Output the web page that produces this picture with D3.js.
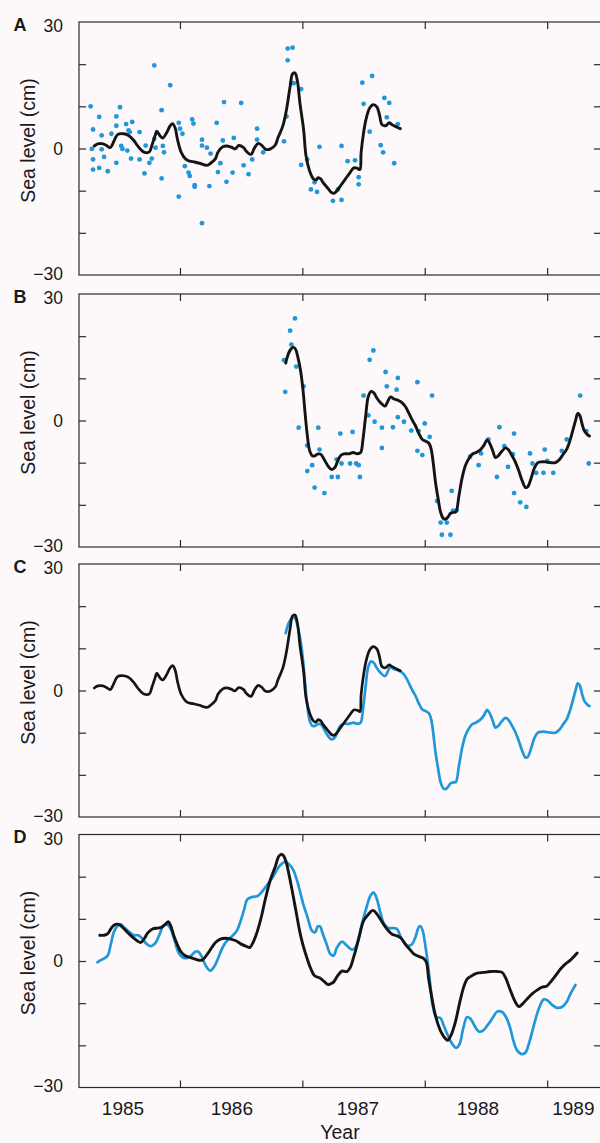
<!DOCTYPE html>
<html>
<head>
<meta charset="utf-8">
<script src="https://cdn.jsdelivr.net/npm/d3@7"></script>
<style>
  body { margin: 0; background: #fdf9fb; }
  text { font-family: "Liberation Sans", Arial, Helvetica, sans-serif; fill: #1a1a1a; }
</style>
</head>
<body>
<script>
// sea level (cm) against decimal year

// A: observed monthly values and their smoothed curve
const dotsA = [
  [1985.27,10.0],[1985.29,4.5],[1985.28,-0.1],[1985.29,-2.6],[1985.29,-5.0],[1985.34,7.5],[1985.36,3.1],
  [1985.36,-0.2],[1985.34,-4.6],[1985.38,-2.0],[1985.41,-5.4],[1985.44,3.5],[1985.48,5.4],[1985.48,7.6],
  [1985.51,9.8],[1985.48,-3.4],[1985.52,0.6],[1985.53,-0.1],[1985.57,-0.5],[1985.56,5.8],[1985.58,4.3],
  [1985.59,3.9],[1985.61,6.3],[1985.60,-2.4],[1985.67,3.9],[1985.67,-2.6],[1985.71,-5.9],[1985.72,0.7],
  [1985.75,-3.4],[1985.77,-2.4],[1985.79,19.7],[1985.79,2.3],[1985.80,0.2],[1985.85,-7.1],[1985.85,9.1],
  [1985.87,-0.9],[1985.86,0.6],[1985.92,15.0],[1985.99,6.1],[1985.99,-11.4],[1986.00,4.7],[1986.02,3.5],
  [1986.04,-4.2],[1986.07,-5.7],[1986.08,-6.5],[1986.10,6.9],[1986.11,5.9],[1986.12,-8.7],[1986.12,-9.1],
  [1986.18,2.1],[1986.18,0.7],[1986.18,-17.7],[1986.22,0.2],[1986.24,-8.9],[1986.25,-1.2],[1986.30,6.1],
  [1986.31,-5.6],[1986.33,-3.5],[1986.35,1.9],[1986.36,11.0],[1986.38,-7.9],[1986.44,2.5],[1986.43,-5.7],
  [1986.50,10.8],[1986.52,-4.0],[1986.56,-6.1],[1986.59,-2.6],[1986.63,4.7],[1986.63,2.1],[1986.68,-0.9],
  [1986.85,1.7],[1986.87,7.6],[1986.88,20.9],[1986.88,23.7],[1986.92,23.9],[1986.91,15.5],[1986.93,15.5],
  [1986.99,14.1],[1986.99,-3.9],[1987.04,-2.6],[1987.07,-9.7],[1987.10,-8.0],[1987.12,-10.3],[1987.14,0.4],
  [1987.25,-12.4],[1987.29,-9.7],[1987.32,0.6],[1987.32,-12.2],[1987.37,-3.0],[1987.43,-2.8],[1987.46,-6.8],
  [1987.46,-8.5],[1987.49,15.6],[1987.50,10.6],[1987.55,4.0],[1987.57,17.2],[1987.64,0.8],[1987.66,-0.9],
  [1987.67,12.0],[1987.69,7.4],[1987.71,10.8],[1987.75,-3.5],[1987.78,5.8]
];
const smoothA = [
  [1985.30,0.6],[1985.33,1.1],[1985.37,1.1],[1985.40,0.7],[1985.43,0.2],[1985.46,1.7],[1985.49,3.3],
  [1985.54,3.5],[1985.58,3.1],[1985.62,2.0],[1985.66,0.4],[1985.71,-0.9],[1985.75,-0.8],[1985.77,0.7],
  [1985.80,3.3],[1985.81,4.1],[1985.84,2.9],[1985.86,2.5],[1985.89,3.7],[1985.92,5.4],[1985.94,5.9],
  [1985.96,4.9],[1985.98,2.1],[1986.01,-0.9],[1986.05,-2.6],[1986.08,-3.0],[1986.12,-3.2],[1986.16,-3.5],
  [1986.22,-4.0],[1986.25,-3.5],[1986.29,-2.4],[1986.31,-0.9],[1986.35,0.4],[1986.38,0.6],[1986.42,0.3],
  [1986.45,-0.1],[1986.48,0.7],[1986.52,0.2],[1986.54,-0.6],[1986.58,-1.4],[1986.61,0.2],[1986.64,1.2],
  [1986.67,0.7],[1986.70,-0.2],[1986.74,-0.1],[1986.78,0.9],[1986.80,2.5],[1986.84,5.3],[1986.87,9.2],
  [1986.90,14.7],[1986.92,17.7],[1986.94,17.9],[1986.96,15.9],[1986.98,10.8],[1987.01,4.5],[1987.03,-1.8],
  [1987.06,-5.4],[1987.09,-7.2],[1987.11,-7.5],[1987.13,-6.9],[1987.15,-7.2],[1987.17,-8.1],[1987.21,-9.5],
  [1987.24,-10.5],[1987.26,-10.6],[1987.28,-10.1],[1987.31,-8.9],[1987.35,-7.3],[1987.39,-5.7],[1987.42,-4.6],
  [1987.45,-4.7],[1987.47,-5.0],[1987.48,-1.0],[1987.50,3.7],[1987.52,6.9],[1987.55,9.6],[1987.58,10.4],
  [1987.61,9.8],[1987.63,8.0],[1987.65,5.7],[1987.68,5.4],[1987.71,6.1],[1987.73,5.7],[1987.77,5.1],
  [1987.80,4.7]
];

// B: second record, observed values and smoothed curve
const dotsB = [
  [1986.85,14.3],[1986.86,6.8],[1986.90,21.3],[1986.91,18.0],[1986.94,24.2],[1986.95,12.8],[1986.97,-1.7],
  [1987.01,8.1],[1987.04,-5.9],[1987.04,-12.0],[1987.08,-10.6],[1987.10,-15.9],[1987.13,-1.7],[1987.14,-6.9],
  [1987.18,-17.2],[1987.24,-13.4],[1987.28,-9.2],[1987.29,-13.4],[1987.31,-3.1],[1987.32,-10.2],[1987.39,-10.2],
  [1987.41,-2.7],[1987.44,-10.2],[1987.46,-10.6],[1987.47,-13.4],[1987.50,5.9],[1987.54,1.2],[1987.55,14.4],
  [1987.58,16.6],[1987.59,-0.3],[1987.65,-1.7],[1987.65,-6.5],[1987.68,11.5],[1987.69,8.1],[1987.74,-1.6],
  [1987.77,7.3],[1987.78,10.1],[1987.78,0.8],[1987.83,-0.3],[1987.89,-2.4],[1987.94,9.1],[1987.94,-7.2],
  [1987.95,-2.5],[1987.98,-8.2],[1988.00,-0.7],[1988.04,-3.9],[1988.06,5.9],[1988.10,-19.1],[1988.13,-24.2],
  [1988.14,-27.1],[1988.18,-24.2],[1988.21,-27.1],[1988.22,-16.7],[1988.23,-21.4],[1988.26,-21.3],[1988.37,-8.6],
  [1988.44,-10.6],[1988.46,-7.8],[1988.52,-4.5],[1988.59,-13.4],[1988.61,-1.6],[1988.65,-6.1],[1988.68,-11.0],
  [1988.72,-8.0],[1988.73,-17.2],[1988.73,-3.1],[1988.78,-19.4],[1988.83,-20.5],[1988.86,-7.8],[1988.88,-10.2],
  [1988.91,-12.4],[1988.97,-12.4],[1988.98,-6.9],[1989.00,-9.6],[1989.05,-12.4],[1989.12,-7.2],[1989.16,-4.5],
  [1989.27,5.9],[1989.32,-2.5],[1989.34,-10.2]
];
const smoothB = [
  [1986.864,13.6],[1986.883,15.6],[1986.905,16.9],[1986.927,17.4],[1986.946,16.8],[1986.965,14.8],[1986.986,11.7],
  [1987.005,7.3],[1987.022,1.8],[1987.041,-3.7],[1987.060,-7.2],[1987.082,-8.4],[1987.101,-8.4],[1987.122,-8.0],
  [1987.150,-8.0],[1987.177,-9.2],[1987.210,-10.8],[1987.237,-11.6],[1987.264,-11.2],[1987.286,-9.8],[1987.313,-8.3],
  [1987.340,-7.9],[1987.381,-7.9],[1987.416,-7.6],[1987.449,-7.9],[1987.476,-7.6],[1987.495,-4.5],[1987.517,1.0],
  [1987.539,5.7],[1987.563,6.9],[1987.585,6.5],[1987.607,5.4],[1987.639,4.2],[1987.675,3.4],[1987.699,4.6],
  [1987.721,5.6],[1987.748,5.1],[1987.781,4.8],[1987.816,4.2],[1987.844,3.2],[1987.871,1.7],[1987.898,0.1],
  [1987.925,-1.3],[1987.952,-3.1],[1987.980,-4.5],[1988.007,-4.9],[1988.034,-5.4],[1988.053,-6.9],[1988.069,-10.0],
  [1988.088,-14.7],[1988.110,-18.7],[1988.129,-21.7],[1988.151,-23.2],[1988.170,-23.4],[1988.192,-22.8],[1988.211,-22.0],
  [1988.233,-21.8],[1988.254,-21.7],[1988.279,-17.9],[1988.306,-13.5],[1988.333,-10.6],[1988.361,-9.0],[1988.388,-8.0],
  [1988.420,-7.6],[1988.456,-6.9],[1988.483,-5.9],[1988.510,-4.6],[1988.532,-5.5],[1988.556,-7.2],[1988.578,-8.8],
  [1988.600,-8.4],[1988.627,-7.4],[1988.660,-6.5],[1988.682,-6.9],[1988.706,-8.0],[1988.736,-9.6],[1988.769,-12.0],
  [1988.796,-14.3],[1988.823,-15.9],[1988.842,-15.7],[1988.869,-13.7],[1988.897,-11.2],[1988.924,-10.0],[1988.951,-9.8],
  [1988.986,-9.8],[1989.027,-10.0],[1989.068,-10.0],[1989.103,-9.2],[1989.131,-8.0],[1989.158,-6.9],[1989.185,-4.9],
  [1989.212,-2.1],[1989.234,0.2],[1989.250,1.7],[1989.267,1.2],[1989.286,-0.9],[1989.305,-2.5],[1989.327,-3.3],
  [1989.346,-3.7]
];

// D: two further series
const blackD = [
  [1985.345,6.1],[1985.38,6.1],[1985.41,6.5],[1985.435,7.6],[1985.46,8.5],[1985.50,8.7],[1985.53,8.0],
  [1985.57,6.8],[1985.61,5.7],[1985.65,4.8],[1985.68,4.4],[1985.71,5.4],[1985.735,6.6],[1985.775,7.6],
  [1985.82,7.8],[1985.85,8.0],[1985.88,8.7],[1985.905,9.3],[1985.925,8.3],[1985.95,6.0],[1985.98,3.8],
  [1986.007,2.2],[1986.04,1.3],[1986.075,0.9],[1986.12,0.5],[1986.15,0.2],[1986.18,0.2],[1986.225,1.7],
  [1986.26,3.2],[1986.29,4.4],[1986.33,5.2],[1986.375,5.4],[1986.415,5.2],[1986.457,4.8],[1986.50,4.0],
  [1986.54,3.5],[1986.57,3.2],[1986.59,4.0],[1986.62,6.0],[1986.66,9.9],[1986.70,15.0],[1986.74,19.4],
  [1986.78,22.5],[1986.805,24.7],[1986.825,25.3],[1986.845,25.0],[1986.865,23.7],[1986.89,20.6],[1986.92,16.2],
  [1986.95,11.5],[1986.98,6.8],[1987.007,3.6],[1987.04,0.5],[1987.07,-1.9],[1987.10,-3.5],[1987.14,-4.0],
  [1987.18,-4.9],[1987.21,-5.6],[1987.23,-5.4],[1987.255,-5.0],[1987.283,-3.7],[1987.324,-2.4],[1987.364,-2.5],
  [1987.392,-1.5],[1987.419,0.9],[1987.46,5.2],[1987.50,9.5],[1987.54,11.1],[1987.577,12.0],[1987.61,11.1],
  [1987.65,9.3],[1987.69,7.6],[1987.73,6.4],[1987.77,6.0],[1987.806,5.4],[1987.84,4.0],[1987.877,2.8],
  [1987.91,1.7],[1987.95,1.1],[1987.99,0.6],[1988.013,-0.3],[1988.032,-4.3],[1988.06,-9.0],[1988.087,-12.9],
  [1988.128,-16.5],[1988.168,-18.4],[1988.188,-18.8],[1988.215,-17.6],[1988.25,-14.5],[1988.286,-9.8],[1988.318,-6.2],
  [1988.346,-4.3],[1988.373,-3.7],[1988.427,-2.9],[1988.482,-2.7],[1988.536,-2.5],[1988.591,-2.5],[1988.632,-2.7],
  [1988.659,-3.9],[1988.70,-7.0],[1988.741,-9.8],[1988.768,-10.8],[1988.795,-10.3],[1988.836,-9.0],[1988.877,-7.8],
  [1988.918,-6.9],[1988.959,-6.2],[1988.994,-6.0],[1989.027,-5.0],[1989.068,-3.5],[1989.109,-1.9],[1989.15,-0.7],
  [1989.19,0.2],[1989.245,1.9]
];
const blueD = [
  [1985.326,-0.3],[1985.353,0.2],[1985.38,0.6],[1985.41,1.3],[1985.435,4.0],[1985.46,6.9],[1985.49,8.3],
  [1985.516,8.7],[1985.544,8.0],[1985.585,6.9],[1985.626,6.1],[1985.66,6.1],[1985.694,5.2],[1985.73,4.0],
  [1985.76,3.5],[1985.80,4.3],[1985.83,6.1],[1985.863,8.3],[1985.89,8.7],[1985.925,7.6],[1985.953,5.2],
  [1985.988,2.0],[1986.02,0.9],[1986.06,0.7],[1986.097,1.4],[1986.124,2.2],[1986.15,2.2],[1986.18,0.9],
  [1986.21,-1.1],[1986.247,-2.3],[1986.28,-1.3],[1986.315,0.9],[1986.348,3.2],[1986.39,5.0],[1986.43,6.0],
  [1986.465,7.2],[1986.49,9.0],[1986.525,12.3],[1986.55,14.6],[1986.593,15.2],[1986.634,15.4],[1986.675,16.6],
  [1986.716,18.2],[1986.757,19.8],[1986.797,21.9],[1986.833,23.1],[1986.86,23.5],[1986.893,22.9],[1986.926,21.6],
  [1986.953,19.4],[1986.98,16.6],[1987.007,13.5],[1987.043,10.3],[1987.078,7.2],[1987.105,6.8],[1987.125,8.2],
  [1987.144,8.2],[1987.165,6.6],[1987.198,4.0],[1987.228,1.7],[1987.255,1.3],[1987.283,3.2],[1987.324,4.6],
  [1987.364,3.6],[1987.405,2.7],[1987.433,3.2],[1987.46,5.6],[1987.493,9.5],[1987.528,13.1],[1987.555,15.4],
  [1987.582,16.2],[1987.61,14.6],[1987.637,11.5],[1987.67,8.7],[1987.705,7.8],[1987.741,7.8],[1987.773,7.6],
  [1987.806,5.6],[1987.833,4.4],[1987.86,3.6],[1987.896,4.0],[1987.923,5.6],[1987.95,8.0],[1987.964,8.3],
  [1987.983,7.2],[1988.005,3.6],[1988.024,-0.3],[1988.046,-5.8],[1988.065,-10.6],[1988.095,-13.3],[1988.128,-13.5],
  [1988.155,-15.3],[1988.188,-17.6],[1988.223,-19.6],[1988.258,-20.6],[1988.286,-19.6],[1988.313,-16.1],[1988.346,-13.3],
  [1988.373,-13.7],[1988.406,-15.3],[1988.441,-16.7],[1988.476,-16.5],[1988.509,-15.4],[1988.55,-13.7],[1988.591,-12.0],
  [1988.632,-12.1],[1988.667,-13.5],[1988.70,-16.1],[1988.727,-19.2],[1988.754,-21.2],[1988.795,-22.1],[1988.823,-21.7],
  [1988.855,-19.2],[1988.891,-15.3],[1988.932,-11.3],[1988.973,-9.1],[1989.005,-9.4],[1989.041,-10.4],[1989.081,-11.1],
  [1989.122,-10.9],[1989.158,-9.8],[1989.19,-7.8],[1989.231,-5.7]
];

const panelLetters = ['A', 'B', 'C', 'D'];
const yearTicks = [1986, 1987, 1988, 1989];
const yearLabels = ['1985', '1986', '1987', '1988', '1989'];
const yearLabelAt = [1985.53, 1986.42, 1987.45, 1988.43, 1989.21];
const levelTicks = [-20, -10, 0, 10, 20];
const levelLabels = [-30, 0, 30];

const BLUE = '#1f97d8';
const INK = '#141414';

const W = 600, H = 1143;
const left = 79, right = 601;
const panelTops = [22, 294, 564, 834.5];
const panelH = 253;

const svg = d3.select('body').append('svg')
  .attr('width', W)
  .attr('height', H);

svg.append('rect').attr('width', W).attr('height', H).attr('fill', '#fdf9fb');

const x = d3.scaleLinear().domain([1985.175, 1989.44]).range([left, right]);

const panels = [
  { dots: dotsA, lines: [{ data: smoothA, color: INK, width: 2.9 }] },
  { dots: dotsB, lines: [{ data: smoothB, color: INK, width: 2.9 }] },
  { dots: [], lines: [{ data: smoothB, color: BLUE, width: 2.7 }, { data: smoothA, color: INK, width: 2.7 }] },
  { dots: [], lines: [{ data: blueD, color: BLUE, width: 2.7 }, { data: blackD, color: INK, width: 2.9 }] }
];

function fmt(d) {
  return d < 0 ? '\u2212' + Math.abs(d) : String(d);
}

function clean(sel) {
  sel.select('.domain').remove();
  sel.selectAll('line').attr('stroke', '#2a2a2a').attr('stroke-width', 1.2);
}

panels.forEach((p, i) => {
  const top = panelTops[i];
  const y = d3.scaleLinear().domain([-30, 30]).range([top + panelH, top]);
  const g = svg.append('g');

  g.append('rect')
    .attr('x', left).attr('y', top)
    .attr('width', right - left).attr('height', panelH)
    .attr('fill', 'none')
    .attr('stroke', '#2a2a2a')
    .attr('stroke-width', 1.2);

  // inward ticks on all four sides
  g.append('g').attr('transform', `translate(0,${top})`)
    .call(d3.axisTop(x).tickValues(yearTicks).tickSize(-7).tickFormat(''))
    .call(clean);
  g.append('g').attr('transform', `translate(0,${top + panelH})`)
    .call(d3.axisBottom(x).tickValues(yearTicks).tickSize(-7).tickFormat(''))
    .call(clean);
  g.append('g').attr('transform', `translate(${left},0)`)
    .call(d3.axisLeft(y).tickValues(levelTicks).tickSize(-7).tickFormat(''))
    .call(clean);
  g.append('g').attr('transform', `translate(${right},0)`)
    .call(d3.axisRight(y).tickValues(levelTicks).tickSize(-7).tickFormat(''))
    .call(clean);

  const lab = g.append('g').attr('transform', `translate(${left},0)`)
    .call(d3.axisLeft(y).tickValues(levelLabels).tickSize(0).tickPadding(16).tickFormat(fmt));
  lab.select('.domain').remove();
  lab.selectAll('text')
    .attr('font-size', 17.5)
    .attr('font-family', '"Liberation Sans", Arial, sans-serif')
    .attr('fill', '#1a1a1a')
    // top label sits a little low, bottom one a little high in the original
    .attr('dy', (d) => d === 30 ? '0.55em' : d === -30 ? '0.25em' : '0.32em');

  g.append('text')
    .attr('x', 13.5).attr('y', top + 8.5)
    .attr('font-size', 18)
    .attr('font-weight', 'bold')
    .text(panelLetters[i]);

  g.append('text')
    .attr('transform', `translate(35,${top + panelH / 2 - 8}) rotate(-90)`)
    .attr('text-anchor', 'middle')
    .attr('font-size', 19.5)
    .text('Sea level (cm)');

  const line = d3.line()
    .x((d) => x(d[0]))
    .y((d) => y(d[1]))
    .curve(d3.curveCatmullRom.alpha(0.5));

  g.selectAll('.dot')
    .data(p.dots)
    .enter()
    .append('circle')
    .attr('class', 'dot')
    .attr('cx', (d) => x(d[0]))
    .attr('cy', (d) => y(d[1]))
    .attr('r', 2.4)
    .attr('fill', BLUE);

  // curves go over the dots
  p.lines.forEach((l) => {
    g.append('path')
      .datum(l.data)
      .attr('d', line)
      .attr('fill', 'none')
      .attr('stroke', l.color)
      .attr('stroke-width', l.width)
      .attr('stroke-linejoin', 'round')
      .attr('stroke-linecap', 'round');
  });
});

// year labels under the last panel
const bottom = panelTops[3] + panelH;
const yr = svg.append('g').attr('transform', `translate(0,${bottom})`)
  .call(d3.axisBottom(x).tickValues(yearLabelAt).tickSize(0).tickPadding(14)
    .tickFormat((d, i) => yearLabels[i]));
yr.select('.domain').remove();
yr.selectAll('text')
  .attr('font-size', 19)
  .attr('font-family', '"Liberation Sans", Arial, sans-serif')
  .attr('fill', '#1a1a1a');

svg.append('text')
  .attr('x', (left + right) / 2)
  .attr('y', 1138.5)
  .attr('text-anchor', 'middle')
  .attr('font-size', 19.5)
  .text('Year');
</script>
</body>
</html>
